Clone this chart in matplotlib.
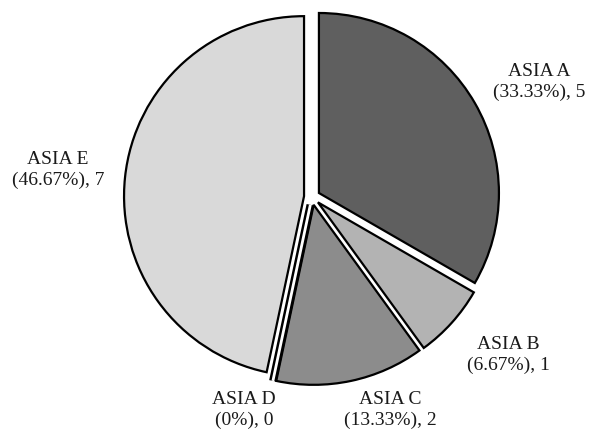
import matplotlib
matplotlib.use("Agg")
import matplotlib.pyplot as plt
from matplotlib.patches import Wedge

# Data
categories = ["ASIA A", "ASIA B", "ASIA C", "ASIA D", "ASIA E"]
values = [5, 1, 2, 0, 7]
colors = ["#5f5f5f", "#b3b3b3", "#8c8c8c", "#a0a0a0", "#d9d9d9"]

W, H = 592, 434
fig = plt.figure(figsize=(W / 100, H / 100), dpi=100)
ax = fig.add_axes([0, 0, 1, 1])

cx, cy, R = 312, H - 197, 180
gap = 8

wedges, _ = ax.pie(values, colors=colors, startangle=90, counterclock=False,
                   explode=[gap] * len(values), center=(cx, cy), radius=R,
                   wedgeprops=dict(edgecolor="black", linewidth=1.6),
                   frame=True)
ax.set_xlim(0, W)
ax.set_ylim(0, H)
ax.set_aspect("equal")
ax.axis("off")

# zero-valued slice drawn as a double outline
for w, v in zip(wedges, values):
    if v == 0:
        w.set_linewidth(5.5)
        ax.add_patch(Wedge(w.center, w.r, w.theta1, w.theta2,
                           facecolor="none", edgecolor="white", linewidth=2.0))

total = sum(values)
label_pos = {
    "ASIA A": (539, 82),
    "ASIA B": (508, 355),
    "ASIA C": (390, 410),
    "ASIA D": (244, 410),
    "ASIA E": (58, 170),
}
for name, v in zip(categories, values):
    pct = 100 * v / total
    pct_txt = f"{pct:.2f}%" if v else "0%"
    x, y = label_pos[name]
    ax.text(x, H - y, f"{name}\n({pct_txt}), {v}", ha="center", va="center",
            fontsize=14, family="Liberation Serif", color="#1a1a1a",
            linespacing=1.25)

fig.savefig("out.png", dpi=100)
